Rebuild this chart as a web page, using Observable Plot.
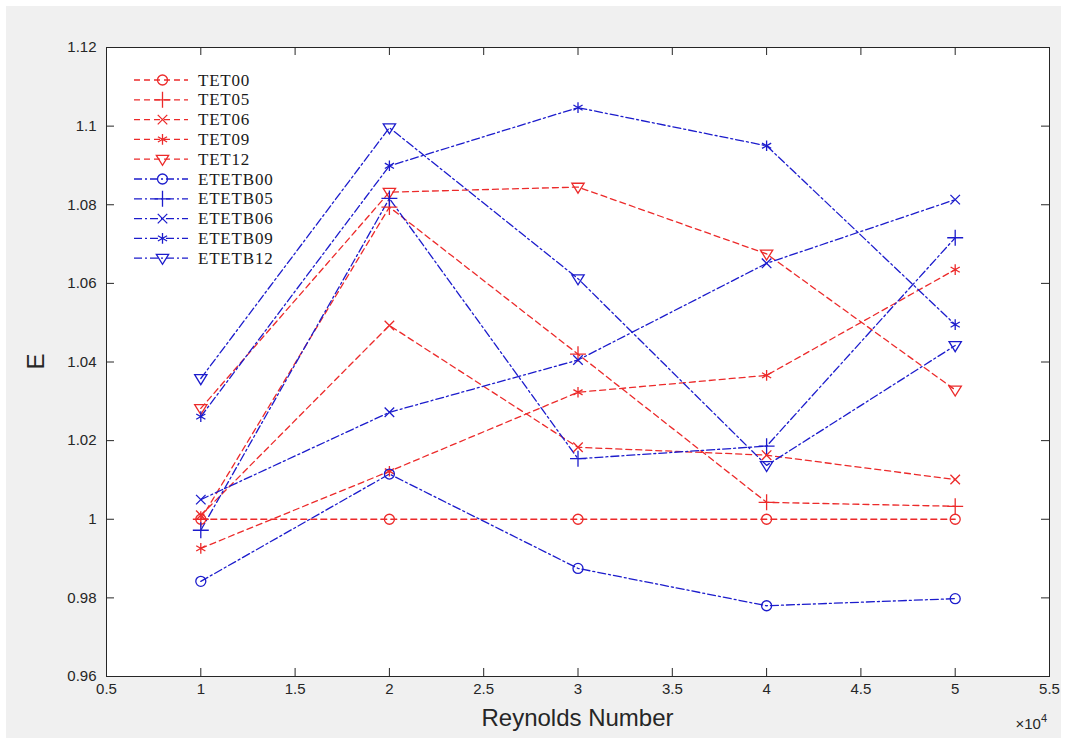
<!DOCTYPE html>
<html>
<head>
<meta charset="utf-8">
<script src="https://cdn.jsdelivr.net/npm/d3@7"></script>
<script src="https://cdn.jsdelivr.net/npm/@observablehq/plot@0.6"></script>
<style>
  html, body { margin: 0; padding: 0; background: #ffffff; }
  #wrap { padding: 6px; width: 1055px; }
  #wrap svg { background: #f0f0f0; display: block; }
</style>
</head>
<body>
<div id="wrap"></div>
<script>
// ---------- data ----------
const reynolds = [10000, 20000, 30000, 40000, 50000];
const TET00   = [1.0000, 1.0000, 1.0000, 1.0000, 1.0000];
const TET05   = [1.0000, 1.0794, 1.0420, 1.0043, 1.0033];
const TET06   = [1.0010, 1.0493, 1.0183, 1.0163, 1.0101];
const TET09   = [0.9926, 1.0122, 1.0323, 1.0366, 1.0635];
const TET12   = [1.0282, 1.0832, 1.0845, 1.0675, 1.0329];
const ETETB00 = [0.9842, 1.0115, 0.9875, 0.9780, 0.9798];
const ETETB05 = [0.9972, 1.0816, 1.0154, 1.0186, 1.0716];
const ETETB06 = [1.0050, 1.0272, 1.0405, 1.0651, 1.0813];
const ETETB09 = [1.0261, 1.0899, 1.1047, 1.0950, 1.0495];
const ETETB12 = [1.0358, 1.0996, 1.0612, 1.0137, 1.0442];

const seriesNames  = ["TET00","TET05","TET06","TET09","TET12","ETETB00","ETETB05","ETETB06","ETETB09","ETETB12"];
const seriesValues = [TET00, TET05, TET06, TET09, TET12, ETETB00, ETETB05, ETETB06, ETETB09, ETETB12];
const xTicks = [5000, 10000, 15000, 20000, 25000, 30000, 35000, 40000, 45000, 50000, 55000];
const yTicks = [0.96, 0.98, 1.00, 1.02, 1.04, 1.06, 1.08, 1.10, 1.12];

// ---------- styles ----------
const RED = "#ec2a2a", BLUE = "#1c1ccc";
const triDown = {
  draw(ctx, size) {
    const s = Math.sqrt(size) * 0.62;
    ctx.moveTo(-s, -s * 0.62);
    ctx.lineTo(s, -s * 0.62);
    ctx.lineTo(0, s * 1.0);
    ctx.closePath();
  }
};
const markerOf = ["circle", "plus", "times", "asterisk", triDown];
const style = seriesNames.map((n, i) => ({
  name: n,
  color: i < 5 ? RED : BLUE,
  dash: i < 5 ? "6,4" : "8,3,2,3",
  symbol: markerOf[i % 5],
  r: [5, 5.2, 4.4, 5, 5.6][i % 5]
}));

const rows = seriesNames.map((n, i) => reynolds.map((x, j) => ({series: n, x, y: seriesValues[i][j]})));

const W = 1055, H = 732;
const mL = 100, mR = 12, mT = 41, mB = 62;

const marks = [
  Plot.frame({fill: "white", stroke: null}),
  // inward tick marks on all four sides
  Plot.ruleX(xTicks, {x: d => d, y1: 0.96, y2: 0.96 + 8 / 3931, stroke: "#262626", strokeWidth: 1}),
  Plot.ruleX(xTicks, {x: d => d, y1: 1.12, y2: 1.12 - 8 / 3931, stroke: "#262626", strokeWidth: 1}),
  Plot.ruleY(yTicks, {y: d => d, x1: 5000, x2: 5000 + 8 / 188.75 * 10000, stroke: "#262626", strokeWidth: 1}),
  Plot.ruleY(yTicks, {y: d => d, x1: 55000, x2: 55000 - 8 / 188.75 * 10000, stroke: "#262626", strokeWidth: 1}),
  Plot.axisX(xTicks, {tickSize: 0, tickPadding: 7, tickFormat: d => String(d / 10000), fontSize: 15, fill: "#262626", label: null,
    fontFamily: "Liberation Sans, Arial, sans-serif"}),
  Plot.axisY(yTicks, {tickSize: 0, tickPadding: 10, tickFormat: d => String(+d.toFixed(2)), fontSize: 15, fill: "#262626", label: null,
    fontFamily: "Liberation Sans, Arial, sans-serif"})
];
style.forEach((s, i) => {
  marks.push(Plot.line(rows[i], {x: "x", y: "y", stroke: s.color, strokeWidth: 1.3, strokeDasharray: s.dash}));
});
style.forEach((s, i) => {
  marks.push(Plot.dot(rows[i], {x: "x", y: "y", stroke: s.color, fill: "none", strokeWidth: 1.3, symbol: s.symbol, r: s.r}));
});
marks.push(Plot.frame({stroke: "#262626", strokeWidth: 1}));

const chart = Plot.plot({
  width: W, height: H,
  marginLeft: mL, marginRight: mR, marginTop: mT, marginBottom: mB,
  style: {background: "#f0f0f0", fontFamily: "Liberation Sans, Arial, sans-serif"},
  x: {domain: [5000, 55000]},
  y: {domain: [0.96, 1.12]},
  marks
});
document.getElementById("wrap").appendChild(chart);

// ---------- axis titles, exponent and legend ----------
const svg = d3.select(chart);
svg.append("text")
  .attr("x", (mL + W - mR) / 2).attr("y", H - 12)
  .attr("text-anchor", "middle")
  .attr("font-family", "Liberation Sans, Arial, sans-serif")
  .attr("font-size", 24).attr("fill", "#262626")
  .text("Reynolds Number");
svg.append("text")
  .attr("transform", `translate(38,${(mT + H - mB) / 2}) rotate(-90)`)
  .attr("text-anchor", "middle")
  .attr("font-family", "Liberation Sans, Arial, sans-serif")
  .attr("font-size", 24).attr("fill", "#262626")
  .text("E");
const ex = svg.append("text")
  .attr("x", W - 14).attr("y", H - 9)
  .attr("text-anchor", "end")
  .attr("font-family", "Liberation Sans, Arial, sans-serif")
  .attr("font-size", 15).attr("fill", "#262626");
ex.append("tspan").text("×10");
ex.append("tspan").attr("dy", -7).attr("font-size", 11).text("4");

const lg = svg.append("g");
const symGen = (s) => d3.symbol(typeof s.symbol === "string" ? ({circle: d3.symbolCircle, plus: d3.symbolPlus, times: d3.symbolTimes, asterisk: d3.symbolAsterisk})[s.symbol] : s.symbol, Math.PI * s.r * s.r)();
style.forEach((s, i) => {
  const y = 74 + i * 19.8;
  lg.append("line").attr("x1", 128).attr("x2", 182).attr("y1", y).attr("y2", y)
    .attr("stroke", s.color).attr("stroke-width", 1.3).attr("stroke-dasharray", s.dash);
  lg.append("path").attr("d", symGen(s)).attr("transform", `translate(156.5,${y})`)
    .attr("fill", "none").attr("stroke", s.color).attr("stroke-width", 1.3);
  lg.append("text").attr("x", 192).attr("y", y + 5.5)
    .attr("text-anchor", "start")
    .attr("font-family", "Liberation Serif, Times New Roman, serif")
    .attr("font-size", 17).attr("letter-spacing", 0.8).attr("fill", "#1a1a1a")
    .text(s.name);
});
</script>
</body>
</html>
